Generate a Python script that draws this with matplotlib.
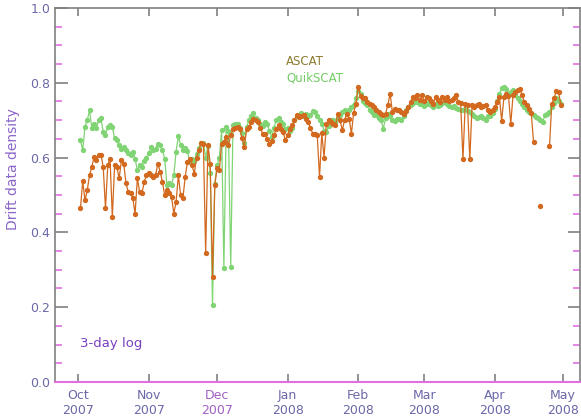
import numpy as np
import matplotlib
matplotlib.use('Agg')
import matplotlib.pyplot as plt
import matplotlib.dates as mdates

nan = np.nan

# daily values, first day 2007-10-02
start_date = '2007-10-02'

ascat = [
    0.464, 0.537, 0.486, 0.513, 0.553, 0.575, 0.602, 0.593, 0.606, 0.608,
    0.575, 0.464, 0.579, 0.597, 0.441, 0.579, 0.575, 0.544, 0.593, 0.584,
    0.531, 0.508, 0.505, 0.491, 0.450, 0.544, 0.508, 0.504, 0.535, 0.553,
    0.560, 0.553, 0.548, 0.553, 0.584, 0.562, 0.535, 0.499, 0.513, 0.505,
    0.495, 0.450, 0.481, 0.553, 0.499, 0.491, 0.548, 0.588, 0.597, 0.579,
    0.557, 0.600, 0.619, 0.639, 0.636, 0.344, 0.633, 0.584, 0.281, 0.526,
    0.571, 0.566, 0.637, 0.642, 0.655, 0.633, 0.660, 0.677, 0.680, 0.682,
    0.675, 0.651, 0.628, 0.677, 0.682, 0.695, 0.704, 0.700, 0.695, 0.680,
    0.664, 0.662, 0.650, 0.637, 0.645, 0.660, 0.677, 0.686, 0.675, 0.668,
    0.646, 0.660, 0.677, 0.686, 0.700, 0.713, 0.708, 0.710, 0.713, 0.704,
    0.695, 0.680, 0.664, 0.664, 0.660, 0.548, 0.665, 0.600, 0.690, 0.700,
    0.695, 0.690, 0.686, 0.717, 0.700, 0.673, 0.700, 0.717, 0.704, 0.664,
    0.720, 0.744, 0.788, 0.765, 0.760, 0.758, 0.748, 0.744, 0.740, 0.735,
    0.728, 0.722, 0.717, 0.713, 0.717, 0.740, 0.771, 0.722, 0.731, 0.728,
    0.726, 0.722, 0.717, 0.725, 0.735, 0.748, 0.762, 0.758, 0.766, 0.753,
    0.766, 0.750, 0.762, 0.758, 0.750, 0.744, 0.762, 0.753, 0.748, 0.762,
    0.753, 0.762, 0.750, 0.755, 0.760, 0.766, 0.748, 0.745, 0.595, 0.744,
    0.740, 0.595, 0.740, 0.735, 0.740, 0.744, 0.735, 0.738, 0.740, 0.726,
    0.722, 0.728, 0.735, 0.748, 0.762, 0.698, 0.762, 0.771, 0.765, 0.691,
    0.766, 0.775, 0.780, 0.784, 0.766, 0.748, 0.740, 0.731, 0.719, 0.642,
    nan, nan, 0.471, nan, nan, nan, 0.630, 0.744, 0.758, 0.778,
    0.775, 0.740,
]

quikscat = [
    0.646, 0.620, 0.682, 0.700, 0.726, 0.678, 0.691, 0.679, 0.700, 0.705,
    0.668, 0.660, 0.682, 0.686, 0.682, 0.651, 0.646, 0.633, 0.624, 0.628,
    0.620, 0.611, 0.608, 0.615, 0.597, 0.566, 0.579, 0.575, 0.590, 0.600,
    0.611, 0.628, 0.620, 0.624, 0.637, 0.633, 0.620, 0.597, 0.526, 0.531,
    0.526, 0.553, 0.615, 0.657, 0.633, 0.620, 0.625, 0.618, 0.588, 0.595,
    0.590, 0.610, 0.625, 0.640, 0.640, 0.600, 0.630, 0.560, 0.205, 0.530,
    0.580, 0.600, 0.673, 0.304, 0.682, 0.670, 0.308, 0.686, 0.690, 0.689,
    0.680, 0.665, 0.640, 0.682, 0.700, 0.710, 0.719, 0.705, 0.700, 0.690,
    0.685, 0.694, 0.690, 0.670, 0.655, 0.680, 0.700, 0.705, 0.695, 0.690,
    0.675, 0.680, 0.672, 0.680, 0.700, 0.712, 0.715, 0.718, 0.712, 0.716,
    0.710, 0.715, 0.725, 0.722, 0.712, 0.700, 0.690, 0.672, 0.668, 0.685,
    0.700, 0.700, 0.695, 0.705, 0.715, 0.722, 0.726, 0.720, 0.728, 0.735,
    0.740, 0.760, 0.778, 0.770, 0.750, 0.745, 0.740, 0.728, 0.722, 0.713,
    0.715, 0.705, 0.700, 0.677, 0.705, 0.717, 0.712, 0.700, 0.698, 0.704,
    0.703, 0.700, 0.712, 0.726, 0.735, 0.740, 0.745, 0.753, 0.748, 0.742,
    0.744, 0.738, 0.742, 0.748, 0.740, 0.735, 0.742, 0.738, 0.740, 0.745,
    0.748, 0.742, 0.738, 0.735, 0.737, 0.733, 0.731, 0.728, 0.726, 0.730,
    0.725, 0.722, 0.717, 0.712, 0.705, 0.708, 0.712, 0.706, 0.700, 0.710,
    0.712, 0.720, 0.731, 0.750, 0.771, 0.785, 0.789, 0.784, 0.771, 0.776,
    0.780, 0.766, 0.760, 0.752, 0.744, 0.735, 0.726, 0.722, 0.720, 0.715,
    0.708, 0.705, 0.700, 0.695, 0.713, 0.717, 0.722, 0.735, 0.745, 0.758,
    0.750, 0.744,
]

y_ticks = [0.0, 0.2, 0.4, 0.6, 0.8, 1.0]

orange = '#D2691E'
green = '#80D474'
magenta = '#E070E0'
gray = '#808080'
label_col = '#6A68A8'

days = np.datetime64(start_date) + np.arange(len(ascat))
days = days.astype('datetime64[D]').astype('O')

fig = plt.figure(figsize=(5.81, 4.18), dpi=100)
ax = fig.add_axes([0.0947, 0.0861, 0.9033, 0.895])

ax.plot(days, quikscat, '-o', color=green, lw=0.9, ms=2.8, mec=green, zorder=2)
ax.plot(days, ascat, '-o', color=orange, lw=0.9, ms=2.8, mec=orange, zorder=3)

ax.set_ylim(0, 1.0)
ax.set_xlim(np.datetime64('2007-09-20T20'), np.datetime64('2008-05-08T08'))
ax.set_yticks(y_ticks)
ax.yaxis.set_major_formatter(matplotlib.ticker.FormatStrFormatter('%.1f'))
ax.yaxis.set_minor_locator(matplotlib.ticker.MultipleLocator(0.05))
ax.xaxis.set_major_locator(mdates.MonthLocator())
ax.xaxis.set_major_formatter(mdates.DateFormatter('%b\n%Y'))

ax.tick_params(which='both', direction='in', top=True, right=True,
               labelsize=9, labelcolor=label_col, color=gray, width=1.2)
ax.tick_params(axis='y', which='major', length=9)
ax.tick_params(axis='y', which='minor', length=5, color=magenta)
ax.tick_params(axis='x', which='major', length=6, pad=5)
ax.tick_params(axis='x', which='minor', length=0)

# tick colours as in the source plot
for i, t in enumerate(ax.yaxis.get_major_ticks()):
    if i in (1, 2):
        t.tick1line.set_color(magenta)
        t.tick2line.set_color(magenta)
for i, t in enumerate(ax.xaxis.get_major_ticks()):
    if i in (0, 5, 6, 7):
        t.tick1line.set_color(magenta)
        t.tick2line.set_color(magenta)
for i, lab in enumerate(ax.get_xticklabels()):
    if i == 2:
        lab.set_color('#A060C8')

for side in ['left', 'top', 'right']:
    ax.spines[side].set_color(gray)
    ax.spines[side].set_linewidth(1.2)
ax.spines['bottom'].set_color(magenta)
ax.spines['bottom'].set_linewidth(1.5)

ax.set_ylabel('Drift data density', fontsize=10, color='#8A66C8')
ax.yaxis.set_label_coords(-0.067, 0.57)

ax.text(0.44, 0.858, 'ASCAT', transform=ax.transAxes, fontsize=8.5,
        color='#8C7A30', va='center')
ax.text(0.44, 0.813, 'QuikSCAT', transform=ax.transAxes, fontsize=8.5,
        color='#74CC66', va='center')
ax.text(0.048, 0.104, '3-day log', transform=ax.transAxes, fontsize=9.5,
        color='#7A40C0', va='center')

fig.savefig('out.png', dpi=100)
